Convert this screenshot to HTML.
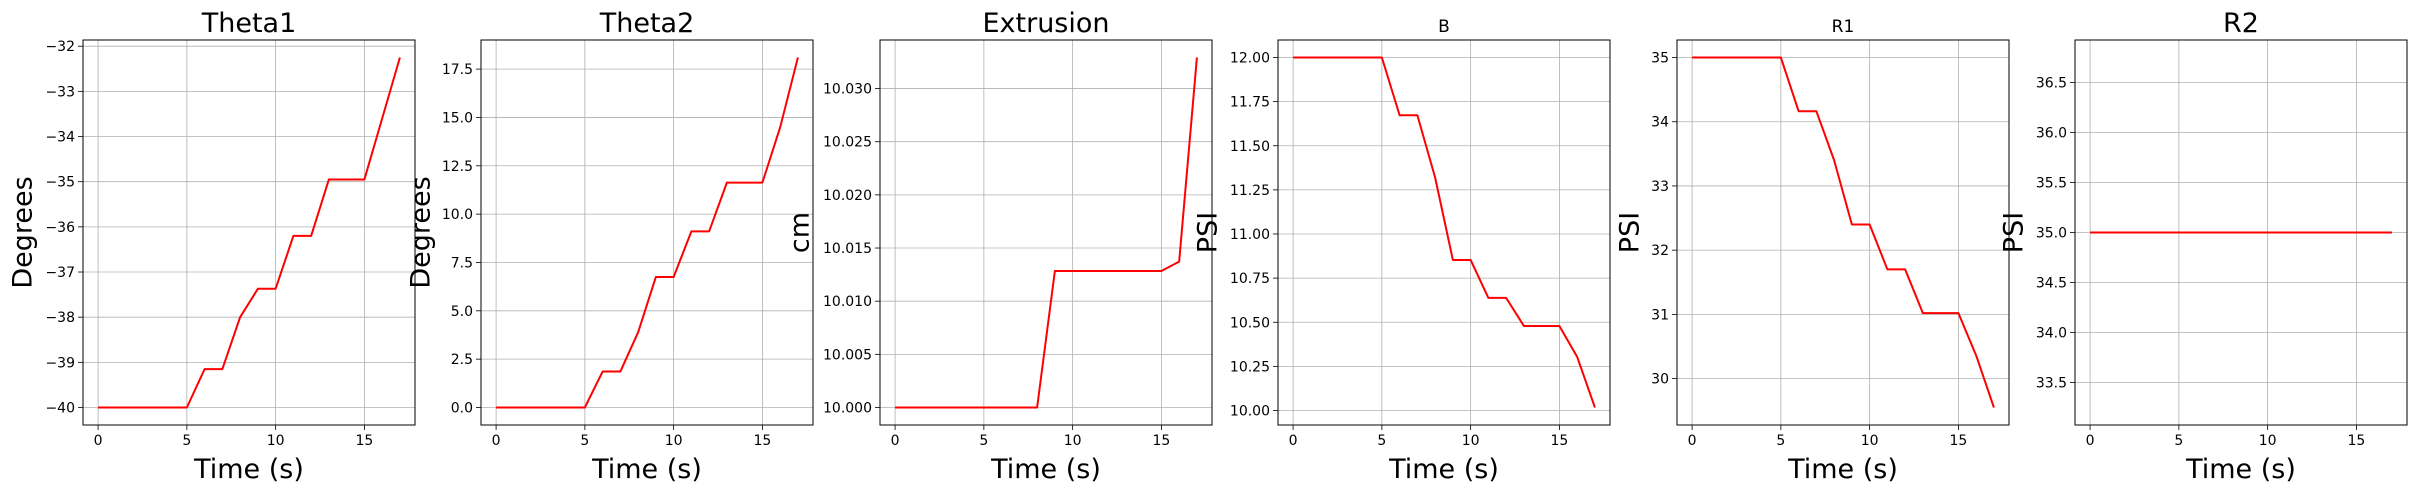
<!DOCTYPE html>
<html><head><meta charset="utf-8"><style>
html,body{margin:0;padding:0;background:#fff;}
svg{display:block;font-family:"DejaVu Sans","Liberation Sans",sans-serif;}
</style></head><body>
<svg id="fig" width="2417" height="492" viewBox="0 0 2417 492" xmlns="http://www.w3.org/2000/svg"></svg>
<script>
const times = [0,1,2,3,4,5,6,7,8,9,10,11,12,13,14,15,16,17];
const theta1Values = [-40,-40,-40,-40,-40,-40,-39.15,-39.15,-38.0,-37.37,-37.37,-36.2,-36.2,-34.95,-34.95,-34.95,-33.6,-32.25];
const theta2Values = [0,0,0,0,0,0,1.86,1.86,3.89,6.75,6.75,9.11,9.11,11.63,11.63,11.63,14.49,18.1];
const extrusionValues = [10,10,10,10,10,10,10,10,10,10.01284,10.01284,10.01284,10.01284,10.01284,10.01284,10.01284,10.01372,10.03292];
const bValues = [12,12,12,12,12,12,11.673,11.673,11.32,10.853,10.853,10.638,10.638,10.479,10.479,10.479,10.304,10.017];
const r1Values = [35,35,35,35,35,35,34.164,34.164,33.40,32.40,32.40,31.70,31.70,31.02,31.02,31.02,30.36,29.55];
const r2Values = [35,35,35,35,35,35,35,35,35,35,35,35,35,35,35,35,35,35];
const xTicks = [0,5,10,15];
const theta1Ticks = [-40,-39,-38,-37,-36,-35,-34,-33,-32];
const theta2Ticks = [0,2.5,5,7.5,10,12.5,15,17.5];
const extrusionTicks = [10.000,10.005,10.010,10.015,10.020,10.025,10.030];
const bTicks = [10,10.25,10.5,10.75,11,11.25,11.5,11.75,12];
const r1Ticks = [30,31,32,33,34,35];
const r2Ticks = [33.5,34,34.5,35,35.5,36,36.5];
const titles = ["Theta1","Theta2","Extrusion","B","R1","R2"];
const yLabels = ["Degrees","Degrees","cm","PSI","PSI","PSI"];

const NS="http://www.w3.org/2000/svg";
const svg=document.getElementById('fig');
function mk(tag,attrs,parent){const e=document.createElementNS(NS,tag);for(const k in attrs)e.setAttribute(k,attrs[k]);(parent||svg).appendChild(e);return e;}

const panels=[
 {vals:theta1Values,ticks:theta1Ticks,dec:0,left:83,tsize:27,ylx:23},
 {vals:theta2Values,ticks:theta2Ticks,dec:1,left:481,tsize:27,ylx:421},
 {vals:extrusionValues,ticks:extrusionTicks,dec:3,left:880,tsize:27,ylx:800},
 {vals:bValues,ticks:bTicks,dec:2,left:1278,tsize:17,ylx:1208},
 {vals:r1Values,ticks:r1Ticks,dec:0,left:1677,tsize:17,ylx:1630},
 {vals:r2Values,ticks:r2Ticks,dec:1,left:2075,tsize:27,ylx:2014}
];
const W=332, TOP=40, BOT=425;
function fmt(v,d){const s=Math.abs(v).toFixed(d);return (v<0?'\u2212':'')+s;}

panels.forEach((p,i)=>{
  const g=mk('g',{});
  
  
  let ymin=Math.min(...p.vals), ymax=Math.max(...p.vals);
  if(ymax-ymin<1e-12){ymin=ymin*0.95;ymax=ymax*1.05;}
  const yr=ymax-ymin; ymin-=0.05*yr; ymax+=0.05*yr;
  const xmin=times[0]-0.05*(times[times.length-1]-times[0]);
  const xmax=times[times.length-1]+0.05*(times[times.length-1]-times[0]);
  const sx=v=>p.left+(v-xmin)/(xmax-xmin)*W;
  const sy=v=>BOT-(v-ymin)/(ymax-ymin)*(BOT-TOP);
  // grid & ticks
  xTicks.forEach(t=>{
    const x=sx(t);
    const gl=mk('line',{x1:x,x2:x,y1:TOP,y2:BOT,stroke:'#b0b0b0','stroke-width':0.8},g);
    
    
    mk('line',{x1:x,x2:x,y1:BOT,y2:BOT+5,stroke:'#000','stroke-width':0.8},g);
    const tl=mk('text',{x:x,y:BOT+20,'font-size':14,'text-anchor':'middle'},g);
    tl.textContent=t;
    
    
  });
  p.ticks.forEach(t=>{
    const y=sy(t);
    const gl=mk('line',{x1:p.left,x2:p.left+W,y1:y,y2:y,stroke:'#b0b0b0','stroke-width':0.8},g);
    
    
    mk('line',{x1:p.left-5,x2:p.left,y1:y,y2:y,stroke:'#000','stroke-width':0.8},g);
    const tl=mk('text',{x:p.left-8,y:y+5,'font-size':14,'text-anchor':'end'},g);
    tl.textContent=fmt(t,p.dec);
    
    
  });
  const pts=times.map((t,k)=>sx(t).toFixed(2)+','+sy(p.vals[k]).toFixed(2)).join(' ');
  const ln=mk('polyline',{points:pts,fill:'none',stroke:'#ff0000','stroke-width':2,'stroke-linejoin':'round'},g);
  
  
  const fr=mk('rect',{x:p.left,y:TOP,width:W,height:BOT-TOP,fill:'none',stroke:'#000','stroke-width':1},g);
  
  
  const tt=mk('text',{x:p.left+W/2,y:32,'font-size':p.tsize,'text-anchor':'middle'},g);
  tt.textContent=titles[i];
  
  
  const xl=mk('text',{x:p.left+W/2,y:478,'font-size':27,'text-anchor':'middle'},g);
  xl.textContent='Time (s)';
  
  
  const cy=(TOP+BOT)/2;
  const yl=mk('text',{x:p.ylx,y:cy,'font-size':27,'text-anchor':'middle','dominant-baseline':'central',transform:'rotate(-90 '+p.ylx+' '+cy+')'},g);
  yl.textContent=yLabels[i];
  
  
});
</script>
</body></html>
